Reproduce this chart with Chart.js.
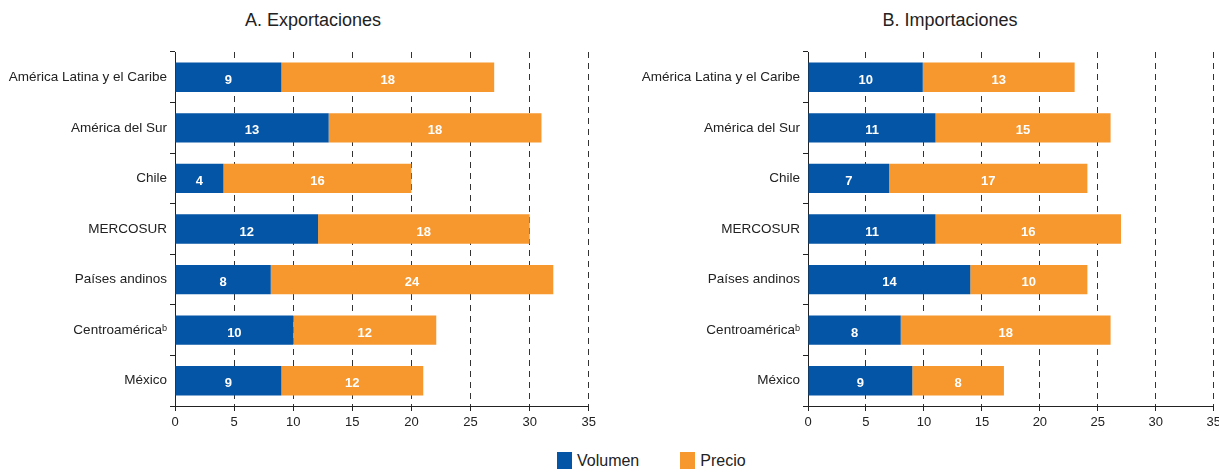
<!DOCTYPE html>
<html>
<head>
<meta charset="utf-8">
<script src="https://cdn.jsdelivr.net/npm/chart.js@4.4.0/dist/chart.umd.min.js"></script>
<style>
  body { margin: 0; width: 1219px; height: 472px; overflow: hidden; background: #fff; position: relative;
         font-family: "Liberation Sans", Arial, sans-serif; color: #222; }
  .box { position: absolute; top: 0; height: 440px; }
  #boxA { left: 0; width: 600px; }
  #boxB { left: 600px; width: 625px; }
  .titulo { position: absolute; top: 10px; width: 300px; text-align: center; font-size: 18px; }
  #legend { position: absolute; left: 557px; top: 452px; font-size: 16px; white-space: nowrap; }
  #legend span.item { display: inline-block; margin-right: 41px; }
  #legend i { display: inline-block; width: 15px; height: 17px; vertical-align: -3px; margin-right: 5px; }
</style>
</head>
<body>
<div class="titulo" id="tA" style="left:163px"></div>
<div class="titulo" id="tB" style="left:800px"></div>
<div class="box" id="boxA"><canvas id="chartA"></canvas></div>
<div class="box" id="boxB"><canvas id="chartB"></canvas></div>
<div id="legend"></div>
<script>
// datos
const regiones = ['América Latina y el Caribe', 'América del Sur', 'Chile', 'MERCOSUR',
                  'Países andinos', 'Centroaméricaᵇ', 'México'];
const series = ['Volumen', 'Precio'];
const colores = ['#0455a5', '#f7982f'];
const titulos = ['A. Exportaciones', 'B. Importaciones'];

const expVolumen = [9.0, 13.0, 4.1, 12.1, 8.1, 10.0, 9.0];
const expPrecio  = [18.0, 18.0, 15.9, 17.9, 23.9, 12.1, 12.0];
const impVolumen = [9.9, 11.0, 7.0, 11.0, 14.0, 8.0, 9.0];
const impPrecio  = [13.1, 15.1, 17.1, 16.0, 10.1, 18.1, 7.9];

const ejeMin = 0, ejeMax = 35, ejePaso = 5;

const fuente = '"Liberation Sans", Arial, sans-serif';

// numeros blancos dentro de cada segmento
const etiquetas = {
  id: 'etiquetas',
  afterDatasetsDraw(chart) {
    const ctx = chart.ctx;
    ctx.save();
    ctx.font = 'bold 13px ' + fuente;
    ctx.fillStyle = '#fff';
    ctx.textAlign = 'center';
    ctx.textBaseline = 'middle';
    chart.data.datasets.forEach((ds, i) => {
      chart.getDatasetMeta(i).data.forEach((bar, j) => {
        const p = bar.getProps(['x', 'base', 'y'], true);
        ctx.fillText(Math.round(ds.data[j]), (p.x + p.base) / 2, p.y + 3);
      });
    });
    ctx.restore();
  }
};

function makeChart(id, volumen, precio, anchoEje, padRight) {
  return new Chart(document.getElementById(id), {
    type: 'bar',
    data: {
      labels: regiones,
      datasets: [
        { label: series[0], data: volumen, backgroundColor: colores[0] },
        { label: series[1], data: precio, backgroundColor: colores[1] }
      ]
    },
    options: {
      indexAxis: 'y',
      responsive: true,
      maintainAspectRatio: false,
      animation: false,
      layout: { padding: { top: 52, right: padRight, left: 0, bottom: 0 } },
      datasets: { bar: { barPercentage: 0.58, categoryPercentage: 1 } },
      plugins: { legend: { display: false }, tooltip: { enabled: false } },
      scales: {
        x: {
          stacked: true, min: ejeMin, max: ejeMax,
          ticks: { stepSize: ejePaso, color: '#222', font: { family: fuente, size: 13 }, padding: 4 },
          grid: { color: '#333', tickColor: '#222', tickLength: 5, tickBorderDash: [] },
          border: { color: '#222', width: 1, dash: [6, 5] },
          afterFit: s => { s.height = 34; }
        },
        y: {
          stacked: true,
          ticks: { color: '#222', font: { family: fuente, size: 13.5 }, padding: 3 },
          grid: { offset: true, drawOnChartArea: false, tickLength: 5, color: '#222' },
          border: { color: '#222', width: 1 },
          afterFit: s => { s.width = anchoEje; }
        }
      }
    },
    plugins: [etiquetas]
  });
}

makeChart('chartA', expVolumen, expPrecio, 175, 10);
makeChart('chartB', impVolumen, impPrecio, 208, 7);

document.getElementById('tA').textContent = titulos[0];
document.getElementById('tB').textContent = titulos[1];

document.getElementById('legend').innerHTML = series.map((s, i) =>
  '<span class="item"><i style="background:' + colores[i] + '"></i>' + s + '</span>').join('');
</script>
</body>
</html>
